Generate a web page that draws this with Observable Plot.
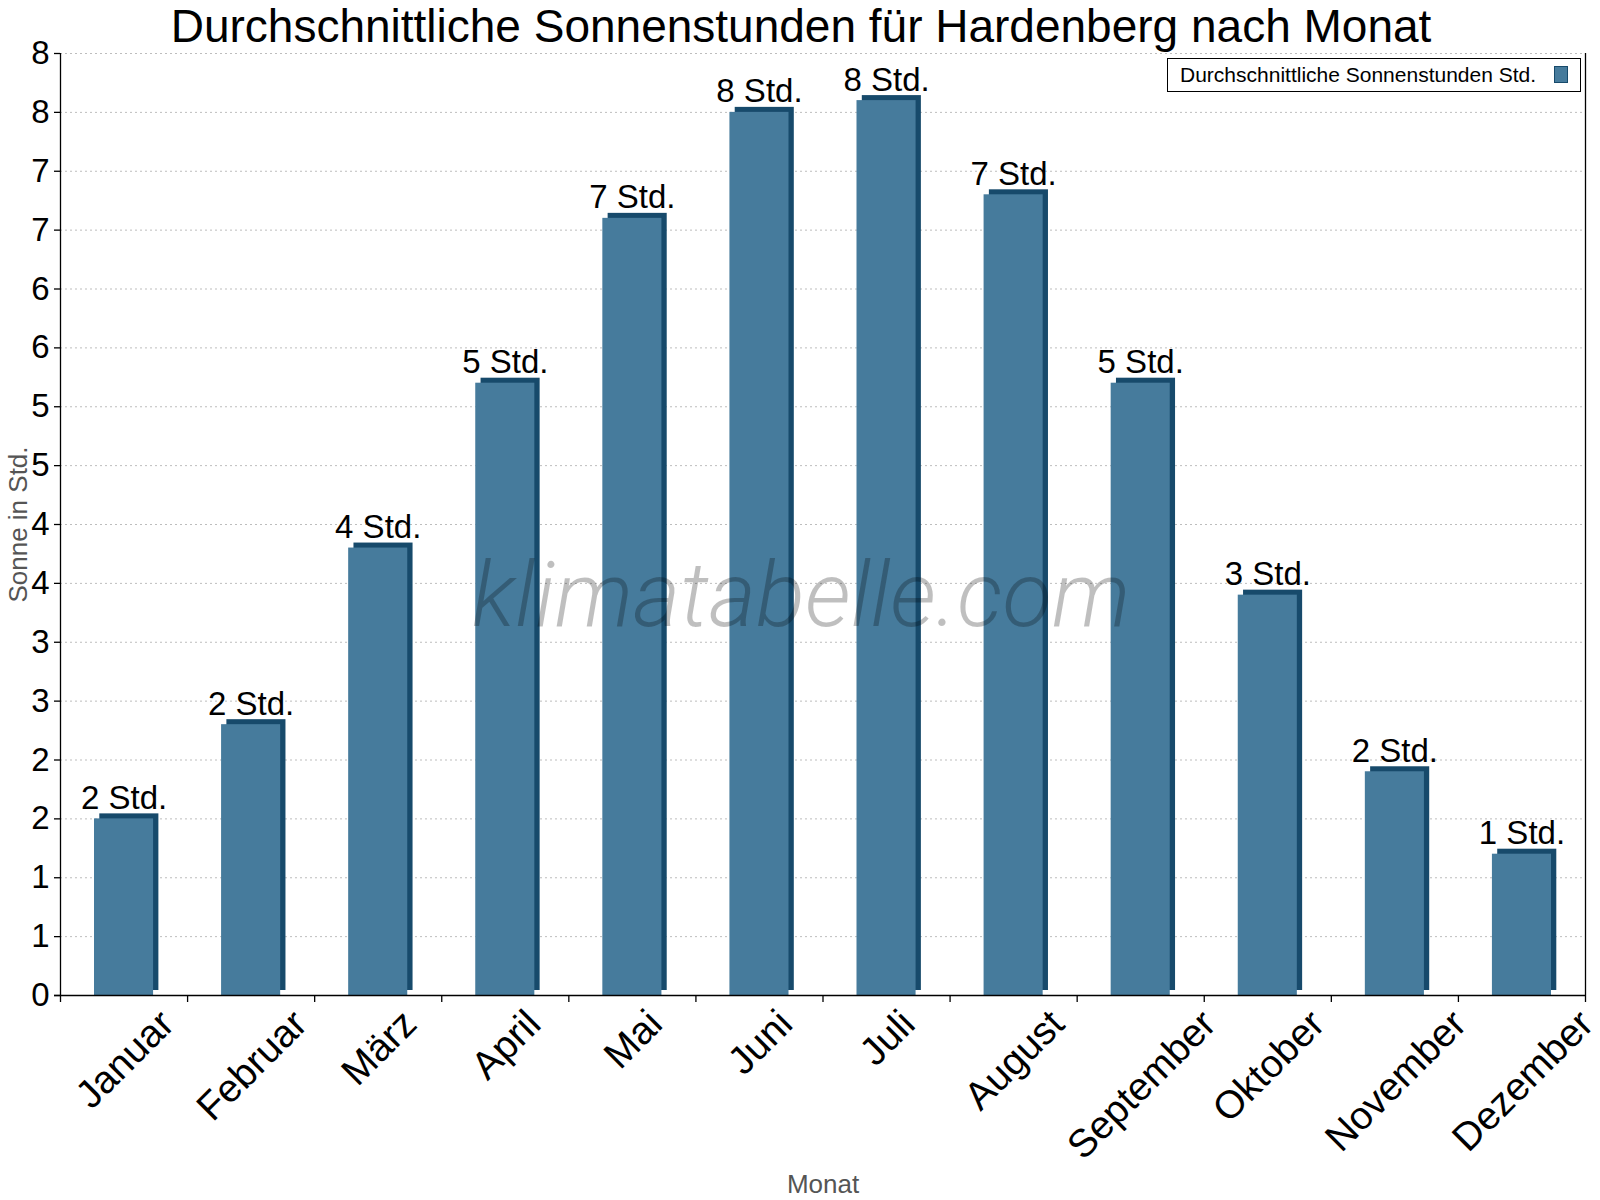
<!DOCTYPE html>
<html>
<head>
<meta charset="utf-8">
<script src="https://cdn.jsdelivr.net/npm/d3@7"></script>
<script src="https://cdn.jsdelivr.net/npm/@observablehq/plot@0.6"></script>
<style>
  body { margin: 0; background: #fff; }
  #chart { position: relative; width: 1600px; height: 1200px; font-family: "Liberation Sans", Arial, sans-serif; }
  #chart svg { display: block; }
  .legend { position: absolute; left: 1167px; top: 58px; width: 414px; height: 34px; box-sizing: border-box;
            border: 1px solid #000; background: #fff; }
  .legend .name { position: absolute; left: 12px; top: 5px; font-size: 21px; line-height: 1; color: #000; white-space: nowrap; }
  .legend .swatch { position: absolute; left: 386px; top: 7px; width: 14px; height: 17px; box-sizing: border-box;
                    border: 1px solid #174a6b; background: #467b9c; }
</style>
</head>
<body>
<div id="chart"></div>
<script>
// Monthly average sunshine hours
const months = ["Januar", "Februar", "März", "April", "Mai", "Juni", "Juli", "August", "September", "Oktober", "November", "Dezember"];
const sunHours = [1.5, 2.3, 3.8, 5.2, 6.6, 7.5, 7.6, 6.8, 5.2, 3.4, 1.9, 1.2];

// y axis: ticks every half hour, labelled with rounded whole hours
const yTicks = [0, 0.5, 1, 1.5, 2, 2.5, 3, 3.5, 4, 4.5, 5, 5.5, 6, 6.5, 7, 7.5, 8];
const yTickLabels = ["0", "1", "1", "2", "2", "3", "3", "4", "4", "5", "5", "6", "6", "7", "7", "8", "8"];

const title = "Durchschnittliche Sonnenstunden für Hardenberg nach Monat";
const seriesName = "Durchschnittliche Sonnenstunden Std.";
const unit = "Std.";
const yTitle = "Sonne in Std.";
const xTitle = "Monat";
const watermark = "klimatabelle.com";

const FONT = "Liberation Sans, Arial, sans-serif";
const FRONT = "#467b9c";
const SIDE = "#174a6b";

const rows = months.map((month, i) => ({i, month, value: sunHours[i]}));
const tickLabel = new Map(yTicks.map((t, i) => [t, yTickLabels[i]]));
const monthBounds = d3.range(months.length + 1);

// Rotated month labels: each one centred under its band, tops aligned on one line
const LABEL_SIZE = 39;
const ctx = document.createElement("canvas").getContext("2d");
ctx.font = `${LABEL_SIZE}px "Liberation Sans"`;
const cap = 0.716 * LABEL_SIZE;
const monthLabels = rows.map(r => {
  const w = ctx.measureText(r.month).width;
  return Plot.text([r], {
    x: d => d.i + 0.5, text: "month", frameAnchor: "bottom",
    rotate: -45, textAnchor: "middle", lineAnchor: "bottom",
    fontSize: LABEL_SIZE, fill: "#000",
    dx: 0.354 * cap, dy: 11 + 0.707 * cap + 0.3536 * w
  });
});

const bar = {x1: d => d.i, x2: d => d.i + 1, y: "value", insetLeft: 34, insetRight: 34};

const chart = Plot.plot({
  width: 1600,
  height: 1200,
  marginTop: 53,
  marginBottom: 205,
  marginLeft: 60,
  marginRight: 15,
  style: {fontFamily: FONT, color: "#000", background: "#fff"},
  x: {domain: [0, months.length]},
  y: {domain: [0, 8]},
  marks: [
    Plot.gridY(yTicks, {stroke: "#bdbdbd", strokeOpacity: 1, strokeDasharray: "2,3"}),
    // darker block offset up and right gives the bars their depth
    Plot.rectY(rows, {...bar, fill: SIDE, dx: 5.3, dy: -5}),
    Plot.rectY(rows, {...bar, fill: FRONT}),
    Plot.ruleX([0], {stroke: "#000", strokeWidth: 1.3}),
    Plot.ruleX([months.length], {stroke: "#000", strokeWidth: 1.3}),
    Plot.ruleY([0], {stroke: "#000", strokeWidth: 1.3, insetLeft: -6}),
    Plot.axisY(yTicks, {tickFormat: d => tickLabel.get(d), tickSize: 6, tickPadding: 5, fontSize: 33, label: null, strokeWidth: 1.3}),
    Plot.axisX(monthBounds, {tickFormat: () => "", tickSize: 7, label: null, strokeWidth: 1.3}),
    ...monthLabels,
    Plot.text(rows, {x: d => d.i + 0.5, y: "value", text: d => `${Math.round(d.value)} ${unit}`,
                     lineAnchor: "bottom", dy: -10, fontSize: 33, fill: "#000"}),
    Plot.text([title], {frameAnchor: "top", textAnchor: "middle", lineAnchor: "bottom", dx: -22, dy: -12, fontSize: 46, fill: "#000"}),
    Plot.text([yTitle], {frameAnchor: "left", textAnchor: "middle", rotate: -90, lineAnchor: "bottom", dx: -34, fontSize: 26, fill: "#555"}),
    Plot.text([xTitle], {frameAnchor: "bottom", textAnchor: "middle", lineAnchor: "bottom", dy: 197, fontSize: 26, fill: "#555"}),
    Plot.text([watermark], {frameAnchor: "middle", textAnchor: "middle", lineAnchor: "bottom", dx: -22, dy: 101, fontSize: 91,
                            fontFamily: "Roboto", fontStyle: "italic", fontWeight: 300, fill: "#000", fillOpacity: 0.25})
  ]
});

const root = document.getElementById("chart");
root.appendChild(chart);

const legend = document.createElement("div");
legend.className = "legend";
legend.innerHTML = `<span class="name"></span><span class="swatch"></span>`;
legend.querySelector(".name").textContent = seriesName;
root.appendChild(legend);
</script>
</body>
</html>
